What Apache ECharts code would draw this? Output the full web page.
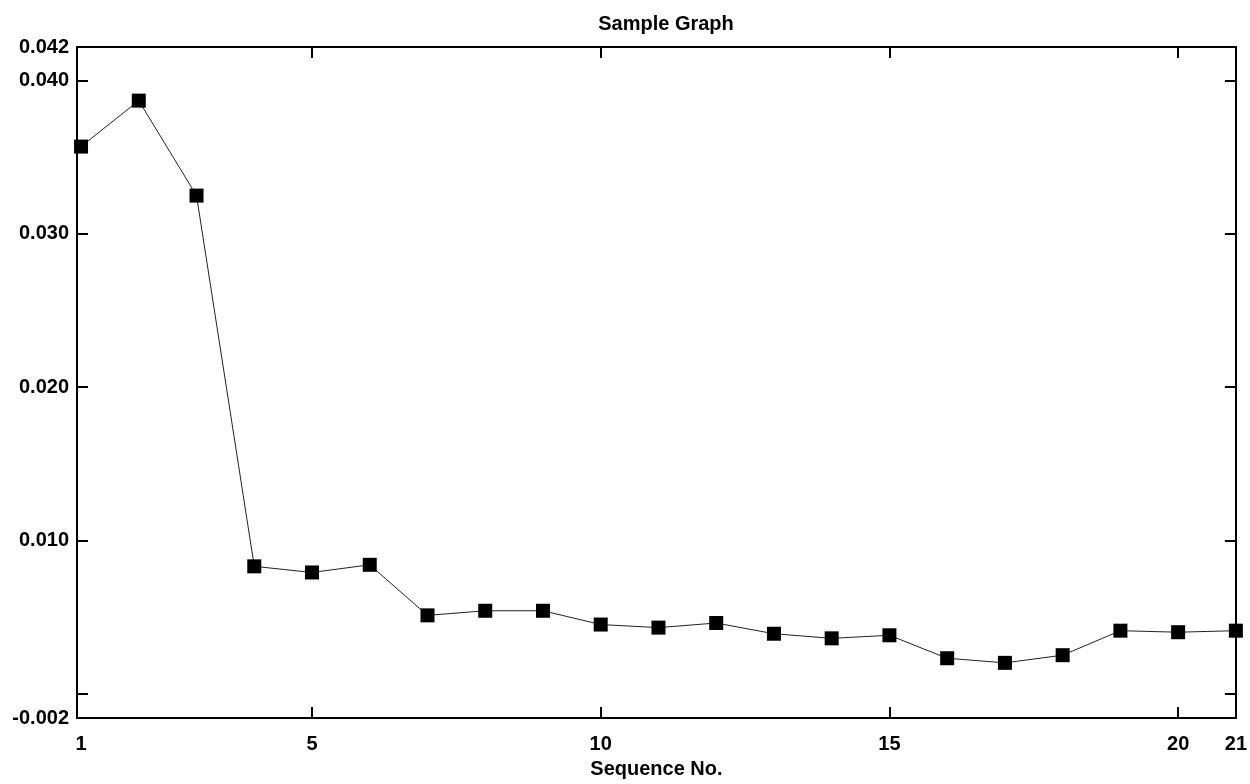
<!DOCTYPE html>
<html>
<head>
<meta charset="utf-8">
<script src="https://cdn.jsdelivr.net/npm/echarts@6/dist/echarts.min.js"></script>
<style>
  html, body { margin: 0; padding: 0; background: #fff; }
  #chart { width: 1250px; height: 784px; }
</style>
</head>
<body>
<div id="chart"></div>
<script>
// Data
const seqNo = [1, 2, 3, 4, 5, 6, 7, 8, 9, 10, 11, 12, 13, 14, 15, 16, 17, 18, 19, 20, 21];
const values = [0.0357, 0.0387, 0.0325, 0.0083, 0.0079, 0.0084, 0.0051, 0.0054, 0.0054, 0.0045, 0.0043,
                0.0046, 0.0039, 0.0036, 0.0038, 0.0023, 0.0020, 0.0025, 0.0041, 0.0040, 0.0041];
// Axis ticks and labels
const xMin = 0.93, xMax = 21;
const xLabelValues = [1, 5, 10, 15, 20, 21];
const xTickValues = [5, 10, 15, 20];
const yMin = -0.0016, yMax = 0.0422;
const yLabelValues = [-0.0016, 0.010, 0.020, 0.030, 0.040, 0.0422];
const yTickValues = [0.000, 0.010, 0.020, 0.030, 0.040];

const fontFamily = 'Liberation Sans, Arial, sans-serif';
const chart = echarts.init(document.getElementById('chart'), null, { renderer: 'canvas' });

const lineStyle = { color: '#000', width: 2 };
const tickStyle = { color: '#000', width: 2 };
const option = {
  backgroundColor: '#fff',
  animation: false,
  title: {
    text: 'Sample Graph',
    left: 661, top: 9, textAlign: 'center',
    textStyle: { fontFamily, fontSize: 20, fontWeight: 'bold', color: '#000' }
  },
  grid: { left: 77, right: 12, top: 47, bottom: 62 },
  xAxis: [
    {
      type: 'value', position: 'bottom', min: xMin, max: xMax,
      name: 'Sequence No.', nameLocation: 'middle', nameGap: 41,
      nameTextStyle: { fontFamily, fontSize: 20, fontWeight: 'bold', color: '#000' },
      axisLine: { show: true, onZero: false, lineStyle },
      axisTick: { show: true, inside: true, length: 11, customValues: xTickValues, lineStyle: tickStyle },
      axisLabel: { show: true, customValues: xLabelValues, margin: 16, fontFamily, fontSize: 20, fontWeight: 'bold', color: '#000' },
      splitLine: { show: false }
    },
    {
      type: 'value', position: 'top', min: xMin, max: xMax,
      axisLine: { show: true, onZero: false, lineStyle },
      axisTick: { show: true, inside: true, length: 11, customValues: xTickValues, lineStyle: tickStyle },
      axisLabel: { show: false },
      splitLine: { show: false }
    }
  ],
  yAxis: [
    {
      type: 'value', position: 'left', min: yMin, max: yMax,
      axisLine: { show: true, onZero: false, lineStyle },
      axisTick: { show: true, inside: true, length: 11, customValues: yTickValues, lineStyle: tickStyle },
      axisLabel: {
        show: true, customValues: yLabelValues, margin: 8,
        fontFamily, fontSize: 20, fontWeight: 'bold', color: '#000',
        formatter: v => v.toFixed(3)
      },
      splitLine: { show: false }
    },
    {
      type: 'value', position: 'right', min: yMin, max: yMax,
      axisLine: { show: true, onZero: false, lineStyle },
      axisTick: { show: true, inside: true, length: 11, customValues: yTickValues, lineStyle: tickStyle },
      axisLabel: { show: false },
      splitLine: { show: false }
    }
  ],
  series: [
    {
      type: 'line',
      xAxisIndex: 0, yAxisIndex: 0,
      data: seqNo.map((x, i) => [x, values[i]]),
      symbol: 'rect', symbolSize: 14,
      itemStyle: { color: '#000' },
      lineStyle: { color: '#222', width: 1 },
      clip: false,
      z: 1
    }
  ]
};
chart.setOption(option);
</script>
</body>
</html>
